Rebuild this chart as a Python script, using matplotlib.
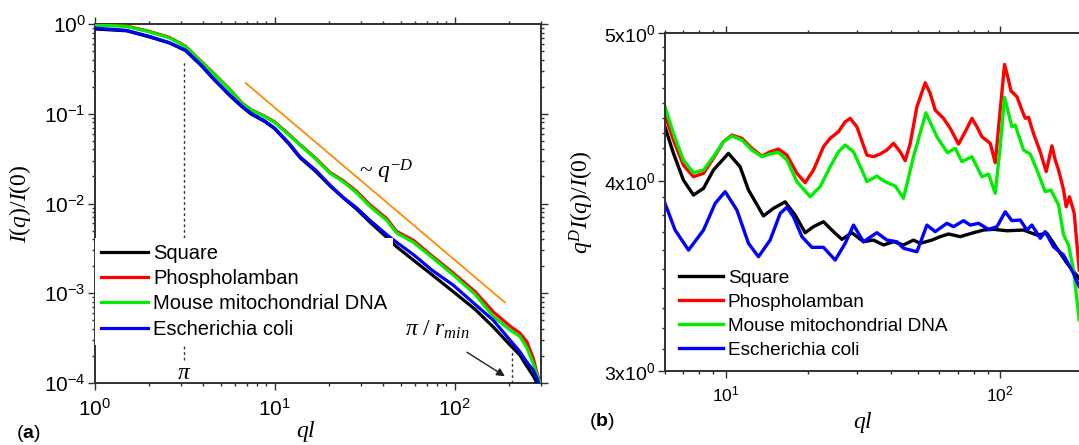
import numpy as np
import matplotlib
matplotlib.use('Agg')
import matplotlib.pyplot as plt
from matplotlib.ticker import FixedLocator, FixedFormatter, NullFormatter, LogLocator

plt.rcParams['font.family'] = ['Liberation Sans', 'DejaVu Sans']
plt.rcParams['mathtext.fontset'] = 'custom'
plt.rcParams['mathtext.it'] = 'Liberation Serif:italic'
plt.rcParams['mathtext.rm'] = 'Liberation Serif'
plt.rcParams['mathtext.bf'] = 'Liberation Sans:bold'

# ---------------- data: panel (a) ----------------
labels = ['Square', 'Phospholamban', 'Mouse mitochondrial DNA', 'Escherichia coli']
colors = ['#000000', '#ff0000', '#00ee00', '#0000ff']

ql_a = [1.0, 1.5, 2.0, 2.6, 3.2, 3.9, 4.56, 5.65, 6.6, 7.4, 8.8, 10.0, 12.0, 13.8, 17.0,
        20.3, 24.0, 28.6, 33.8, 41.9, 47.5, 58.9, 75.0, 98.2, 130.0, 163.8, 203.0, 230.0,
        251.0, 273.0, 286.0, 298.0, 310.0]
I_square = [0.88, 0.84, 0.72, 0.615, 0.505, 0.345, 0.245, 0.158, 0.119, 0.099, 0.082, 0.068,
            0.046, 0.0325, 0.0225, 0.0157, 0.0116, 0.0086, 0.0062, 0.0042, 0.0033, 0.00234,
            0.0016, 0.00104, 0.00066, 0.00042, 0.000265, 0.000205, 0.000155, 0.00012, 0.0001,
            0.00008, 0.00006]
I_phos = [0.99, 0.95, 0.83, 0.71, 0.565, 0.385, 0.285, 0.186, 0.131, 0.111, 0.094, 0.081,
          0.059, 0.0455, 0.0316, 0.0222, 0.0180, 0.0136, 0.0097, 0.0068, 0.0049, 0.0039,
          0.0026, 0.00168, 0.00104, 0.00062, 0.00043, 0.00036, 0.00029, 0.00019, 0.00013,
          0.0001, 0.00007]
I_mouse = [0.975, 0.94, 0.82, 0.70, 0.56, 0.38, 0.282, 0.184, 0.13, 0.110, 0.093, 0.080,
           0.058, 0.0448, 0.031, 0.0217, 0.0175, 0.0131, 0.0093, 0.0065, 0.0047, 0.0037,
           0.0025, 0.0016, 0.00097, 0.00055, 0.00039, 0.00033, 0.00025, 0.000165, 0.000123,
           0.0001, 0.00007]
I_ecoli = [0.90, 0.85, 0.73, 0.62, 0.51, 0.35, 0.248, 0.161, 0.121, 0.101, 0.0833, 0.069,
           0.047, 0.0332, 0.0232, 0.0160, 0.0117, 0.0089, 0.0065, 0.0045, 0.0037, 0.0027,
           0.0018, 0.00123, 0.00075, 0.0005, 0.0003, 0.000224, 0.000172, 0.000139, 0.000113,
           0.00009, 0.00007]

fit_ql = [6.9, 190.0]
fit_I = [0.22, 7.9e-4]
pi_ql = 3.14
rmin_ql = 209.0

# ---------------- data: panel (b) ----------------
ql_sq = [6.00, 6.44, 7.00, 7.62, 8.29, 9.01, 10.22, 11.27, 12.09, 13.71, 14.91, 16.45, 17.89,
         19.46, 20.86, 22.69, 24.67, 26.48, 28.80, 31.74, 34.53, 37.55, 40.83, 44.41, 48.30,
         51.10, 56.36, 60.42, 64.79, 71.48, 79.94, 86.93, 94.54, 105.8, 121.6, 136.1, 148.0,
         160.9, 175.1, 194.1]
S_sq = [4.340, 4.169, 4.004, 3.914, 3.954, 4.065, 4.169, 4.085, 3.944, 3.792, 3.836, 3.874,
        3.797, 3.697, 3.731, 3.759, 3.703, 3.660, 3.697, 3.647, 3.656, 3.629, 3.647, 3.629,
        3.656, 3.638, 3.656, 3.675, 3.690, 3.675, 3.697, 3.712, 3.716, 3.708, 3.712, 3.684,
        3.694, 3.611, 3.530, 3.450]

ql_ph = [6.00, 6.44, 7.00, 7.62, 8.29, 9.01, 9.80, 10.52, 11.44, 12.44, 13.53, 14.50, 15.55,
         16.69, 18.15, 19.46, 20.86, 22.69, 24.00, 25.73, 27.22, 28.39, 30.03, 32.66, 34.53,
         36.52, 38.64, 40.83, 43.20, 45.05, 47.0, 49.70, 53.29, 55.56, 57.94, 62.13, 65.72,
         70.47, 74.56, 78.86, 82.27, 85.77, 91.95, 95.90, 100.0, 103.7, 107.2, 109.4, 115.1,
         120.0, 123.4, 126.8, 132.2, 139.9, 147.1, 154.3, 158.7, 163.2, 170.2, 174.0, 178.9,
         186.1, 194.1]
S_ph = [4.418, 4.254, 4.096, 4.024, 4.045, 4.138, 4.243, 4.286, 4.265, 4.201, 4.152, 4.179,
        4.196, 4.158, 4.045, 3.988, 4.065, 4.211, 4.265, 4.308, 4.373, 4.396, 4.340, 4.158,
        4.148, 4.165, 4.190, 4.233, 4.179, 4.123, 4.233, 4.474, 4.639, 4.565, 4.451, 4.396,
        4.330, 4.228, 4.308, 4.396, 4.340, 4.275, 4.233, 4.110, 4.451, 4.770, 4.658, 4.583,
        4.542, 4.451, 4.396, 4.403, 4.297, 4.179, 4.055, 4.217, 4.127, 4.065, 3.944, 3.845,
        3.904, 3.807, 3.494]

ql_mo = [6.00, 6.44, 7.00, 7.62, 8.29, 9.01, 9.80, 10.52, 11.44, 12.44, 13.53, 14.50, 15.55,
         16.69, 18.15, 20.29, 22.07, 24.00, 25.73, 27.22, 29.19, 31.32, 32.66, 35.52, 37.55,
         39.72, 41.42, 44.41, 48.30, 53.60, 58.77, 64.25, 68.55, 72.51, 78.86, 85.77, 90.65,
         95.90, 100.0, 103.7, 110.3, 113.4, 121.6, 128.6, 136.1, 145.9, 153.0, 163.2, 170.2,
         177.4, 185.0, 194.1]
S_mo = [4.474, 4.297, 4.127, 4.048, 4.065, 4.148, 4.243, 4.280, 4.254, 4.190, 4.148, 4.165,
        4.175, 4.127, 3.994, 3.904, 3.964, 4.085, 4.179, 4.222, 4.179, 4.065, 3.994, 4.028,
        4.000, 3.980, 3.968, 3.895, 4.148, 4.433, 4.275, 4.173, 4.201, 4.117, 4.148, 4.024,
        4.040, 3.924, 4.211, 4.538, 4.340, 4.352, 4.190, 4.165, 4.065, 3.934, 3.944, 3.855,
        3.684, 3.629, 3.494, 3.239]

ql_ec = [6.00, 6.53, 7.31, 8.29, 9.14, 9.94, 10.97, 12.09, 13.15, 14.50, 15.78, 16.69, 17.64,
         18.93, 20.58, 22.69, 25.03, 27.22, 29.19, 31.74, 35.52, 38.64, 42.02, 44.41, 49.70,
         54.05, 57.94, 63.93, 67.57, 73.48, 77.74, 83.36, 90.65, 97.27, 104.3, 110.3, 118.3,
         125.1, 130.5, 139.9, 145.9, 156.4, 170.2, 185.0, 194.1]
S_ec = [3.865, 3.712, 3.601, 3.712, 3.865, 3.934, 3.826, 3.638, 3.565, 3.656, 3.807, 3.842,
        3.787, 3.675, 3.616, 3.616, 3.547, 3.638, 3.740, 3.647, 3.697, 3.656, 3.647, 3.611,
        3.592, 3.740, 3.703, 3.750, 3.731, 3.765, 3.740, 3.750, 3.716, 3.731, 3.816, 3.765,
        3.769, 3.712, 3.740, 3.666, 3.703, 3.619, 3.574, 3.476, 3.407]

b_yticks = [3.0, 4.0, 5.0]
b_yticklabels = [r'$\mathdefault{3x10^{0}}$', r'$\mathdefault{4x10^{0}}$', r'$\mathdefault{5x10^{0}}$']
b_yminor = [3.1, 3.2, 3.3, 3.4, 3.5, 3.6, 3.7, 3.8, 3.9, 4.1, 4.2, 4.3, 4.4, 4.5, 4.6, 4.7, 4.8, 4.9]

# ---------------- figure ----------------
W, H = 1079, 445
fig = plt.figure(figsize=(W / 100, H / 100), dpi=100)
axA = fig.add_axes([94.7 / W, 1 - 383 / H, 445.9 / W, 359 / H])
axB = fig.add_axes([665 / W, 1 - 370.7 / H, 417.8 / W, 337.4 / H])

spine_c = '#303030'

def style(ax, lab_size):
    for s in ax.spines.values():
        s.set_linewidth(1.4)
        s.set_color(spine_c)
    ax.tick_params(which='both', direction='out', top=True, right=True, color=spine_c,
                   labelsize=lab_size, width=1.0)
    ax.tick_params(which='major', length=5)
    ax.tick_params(which='minor', length=2.5)

# ---- panel (a)
curvesA = [I_square, I_phos, I_mouse, I_ecoli]
axA.plot([pi_ql, pi_ql], [1.8e-4, 0.38], ls=(0, (2, 2)), lw=1.0, color='#333333', zorder=1)
axA.plot([rmin_ql, rmin_ql], [1e-4, 2.2e-4], ls=(0, (2, 2)), lw=1.0, color='#333333', zorder=1)
for yv, c, lab in zip(curvesA, colors, labels):
    axA.plot(ql_a, yv, color=c, lw=2.3, label=lab, zorder=3)
axA.plot(fit_ql, fit_I, color='#ff8c00', lw=1.3, zorder=2)
axA.set_xscale('log')
axA.set_yscale('log')
axA.set_xlim(1, 300)
axA.set_ylim(1e-4, 1)
style(axA, 15)
axA.tick_params(axis='x', which='major', pad=5.5)
axA.tick_params(axis='y', which='major', pad=1.5)
axA.xaxis.set_minor_formatter(NullFormatter())
axA.yaxis.set_minor_formatter(NullFormatter())
axA.yaxis.set_minor_locator(LogLocator(base=10, subs=np.arange(2, 10), numticks=20))
axA.xaxis.set_minor_locator(LogLocator(base=10, subs=np.arange(2, 10), numticks=20))

axA.set_ylabel(r'$\mathit{I(q)/I(0)}$', fontsize=17)
axA.yaxis.set_label_coords(-0.138, 0.5)
axA.set_xlabel(r'$\mathit{ql}$', fontsize=17)
axA.xaxis.set_label_coords(0.474, -0.10)

legA = axA.legend(loc='upper left', bbox_to_anchor=(0.0, 0.404), fontsize=14.5,
                  handlelength=2.35, handletextpad=0.25, labelspacing=0.31, borderpad=0.3,
                  borderaxespad=0, frameon=True, fancybox=False, framealpha=1)
legA.get_frame().set_edgecolor('none')
legA.get_frame().set_facecolor('white')
legA.set_zorder(5)

axA.text(41.5, 0.0224, r'~ $\mathit{q^{-D}}$', fontsize=17, family='Liberation Serif',
         ha='center', va='center')
axA.text(pi_ql, 1.3e-4, r'$\mathit{\pi}$', fontsize=17, ha='center', va='center')
axA.text(79.8, 3.9e-4, r'$\mathit{\pi\ /\ r_{min}}$', fontsize=17, ha='center', va='center')
axA.annotate('', xy=(190, 1.19e-4), xytext=(117, 2.2e-4),
             arrowprops=dict(arrowstyle='-|>', color='#202020', lw=1.0, mutation_scale=12,
                             shrinkA=0, shrinkB=0))

# ---- panel (b)
curvesB = [(ql_sq, S_sq), (ql_ph, S_ph), (ql_mo, S_mo), (ql_ec, S_ec)]
for (xv, yv), c, lab in zip(curvesB, colors, labels):
    axB.plot(xv, yv, color=c, lw=2.4, label=lab, solid_joinstyle='round')
axB.set_xscale('log')
axB.set_yscale('log')
axB.set_xlim(6, 200)
axB.set_ylim(3, 5)
style(axB, 13)
axB.yaxis.set_major_locator(FixedLocator(b_yticks))
axB.yaxis.set_major_formatter(FixedFormatter(b_yticklabels))
axB.yaxis.set_minor_locator(FixedLocator(b_yminor))
axB.yaxis.set_minor_formatter(NullFormatter())
axB.xaxis.set_minor_locator(LogLocator(base=10, subs=np.arange(2, 10), numticks=20))
axB.xaxis.set_minor_formatter(NullFormatter())
axB.tick_params(axis='x', which='major', labelsize=12.5, pad=5)
axB.tick_params(axis='y', which='major', labelsize=14, pad=2)

axB.set_ylabel(r'$\mathit{q^{D}I(q)/I(0)}$', fontsize=17)
axB.yaxis.set_label_coords(-0.165, 0.5)
axB.set_xlabel(r'$\mathit{ql}$', fontsize=17)
axB.xaxis.set_label_coords(0.474, -0.115)

legB = axB.legend(loc='upper left', bbox_to_anchor=(0.0335, 0.30), fontsize=13.7,
                  handlelength=2.3, handletextpad=0.27, labelspacing=0.35, borderpad=0,
                  borderaxespad=0, frameon=False)

fig.text(28 / W, 1 - 434 / H, r'($\mathbf{a}$)', fontsize=14, ha='center', va='center')
fig.text(602 / W, 1 - 421.7 / H, r'($\mathbf{b}$)', fontsize=14, ha='center', va='center')

fig.savefig('out.png', dpi=100)
